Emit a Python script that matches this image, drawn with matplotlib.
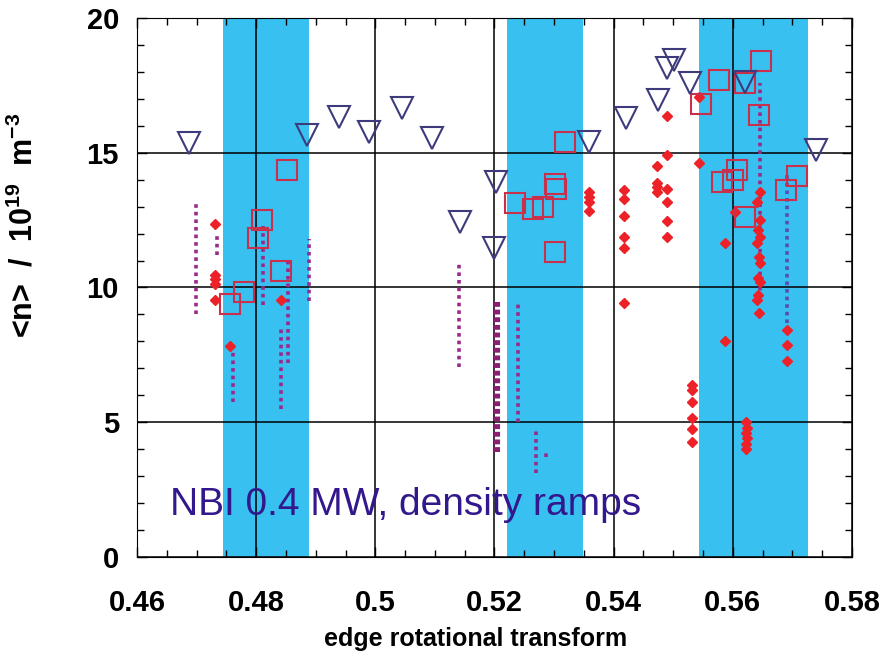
import numpy as np
import matplotlib
matplotlib.use("Agg")
import matplotlib.pyplot as plt

plt.rcParams['font.family'] = ['Liberation Sans', 'DejaVu Sans']
plt.rcParams['mathtext.fontset'] = 'custom'
plt.rcParams['mathtext.rm'] = 'Liberation Sans:bold'
plt.rcParams['mathtext.bf'] = 'Liberation Sans:bold'

# island bands (edge rotational transform)
band_lo = [0.4744, 0.5221, 0.5544]
band_hi = [0.4888, 0.5348, 0.5727]

# triangles
tri_x = [0.4687, 0.4885, 0.4939, 0.4989, 0.5044, 0.5095, 0.5142, 0.5200, 0.5203,
         0.5359, 0.5420, 0.5475, 0.5489, 0.5502, 0.5529, 0.5620, 0.5740]
tri_y = [15.35, 15.67, 16.34, 15.78, 16.67, 15.55, 12.44, 11.47, 13.92,
         15.41, 16.30, 16.97, 18.15, 18.45, 17.60, 17.63, 15.10]

# squares
sq_x = [0.4851, 0.4810, 0.4803, 0.4842, 0.4779, 0.4756,
        0.5319, 0.5301, 0.5303, 0.5234, 0.5264, 0.5281, 0.5301,
        0.5577, 0.5546, 0.5648, 0.5620, 0.5644, 0.5607, 0.5582, 0.5600,
        0.5620, 0.5708, 0.5690]
sq_y = [14.37, 12.51, 11.85, 10.62, 9.85, 9.40,
        15.40, 13.85, 13.65, 13.14, 12.92, 13.00, 11.33,
        17.70, 16.80, 18.40, 17.60, 16.40, 14.37, 13.93, 14.00,
        12.60, 14.15, 13.60]

# red points
dot_x = ([0.4731] * 5 + [0.4756, 0.4841] + [0.5358] * 4 + [0.5418] * 6 +
         [0.5473] * 4 + [0.5490] * 6 + [0.5532] * 6 + [0.5544] * 2 +
         [0.5587] * 2 + [0.5603] +
         [0.5622, 0.5624, 0.5622, 0.5624, 0.5622, 0.5623] +
         [0.5645, 0.5641, 0.5646, 0.5643, 0.5645, 0.5641, 0.5644, 0.5646,
          0.5642, 0.5645, 0.5643, 0.5641, 0.5644] +
         [0.5691] * 3)
dot_y = ([12.36, 10.46, 10.32, 10.13, 9.54] + [7.83, 9.54] +
         [13.54, 13.36, 13.17, 12.84] +
         [13.62, 13.28, 12.65, 11.87, 11.47, 9.42] +
         [14.51, 13.88, 13.73, 13.54] +
         [16.36, 14.92, 13.65, 13.17, 12.47, 11.87] +
         [6.38, 6.20, 5.75, 5.16, 4.75, 4.27] +
         [17.07, 14.62] + [11.65, 8.01] + [12.80] +
         [5.00, 4.80, 4.60, 4.40, 4.20, 4.00] +
         [13.54, 13.17, 12.50, 12.13, 11.87, 11.65, 11.13, 10.90, 10.35,
          10.20, 9.72, 9.54, 9.05] +
         [8.42, 7.87, 7.27])

# density ramps (dotted)
ramp_x = [0.4699, 0.4734, 0.4761, 0.4811, 0.4853, 0.4841, 0.4888,
          0.5140, 0.5239, 0.5269, 0.5286, 0.5645]
ramp_hi = [13.2, 11.9, 7.6, 12.3, 11.0, 8.5, 11.8, 10.9, 9.4, 4.8, 3.9, 17.6]
ramp_lo = [9.0, 11.2, 5.75, 9.35, 7.2, 5.5, 9.5, 7.05, 5.0, 3.1, 3.7, 9.6]

dense_x = 0.5204
dense_hi, dense_lo = 9.5, 3.9

blue_x = 0.5691
blue_hi, blue_lo = 14.2, 8.7

fig = plt.figure(figsize=(8.81, 6.54), dpi=100)
ax = fig.add_axes([0.1555, 0.1483, 0.8115, 0.8242])

for lo, hi in zip(band_lo, band_hi):
    ax.axvspan(lo, hi, color='#38c0f0', lw=0, zorder=0)

ax.set_xlim(0.46, 0.58)
ax.set_ylim(0, 20)
ax.set_xticks([0.46, 0.48, 0.5, 0.52, 0.54, 0.56, 0.58])
ax.set_xticklabels(['0.46', '0.48', '0.5', '0.52', '0.54', '0.56', '0.58'])
ax.set_yticks([0, 5, 10, 15, 20])
ax.set_xticks(np.arange(0.46, 0.5801, 0.005), minor=True)
ax.set_yticks(np.arange(0, 20.1, 1), minor=True)
ax.grid(True, which='major', color='black', lw=1.1, zorder=1)
ax.set_axisbelow(True)

ax.tick_params(which='both', direction='in', top=True, right=True, width=1)
ax.tick_params(which='major', length=7, labelsize=21, pad=23)
ax.tick_params(axis='y', which='major', pad=13)
ax.tick_params(which='minor', length=5)
for lab in ax.get_xticklabels() + ax.get_yticklabels():
    lab.set_fontweight('bold')

for x, hi, lo in zip(ramp_x, ramp_hi, ramp_lo):
    ax.plot([x, x], [lo, hi], color='#9a2a8a', lw=2.6, dashes=(1, 1.1),
            dash_capstyle='butt', zorder=3)
ax.plot([dense_x, dense_x], [dense_lo, dense_hi], color='#8a1f70', lw=4.4,
        dashes=(0.8, 0.45), dash_capstyle='butt', zorder=3)
ax.plot([blue_x, blue_x], [blue_lo, blue_hi], color='#5a4cb0', lw=2.6,
        dashes=(1, 1.1), dash_capstyle='butt', zorder=3)

ax.plot(dot_x, dot_y, 'D', ms=5.5, color='#ec2228', mec='#ec2228', zorder=4)
ax.plot(sq_x, sq_y, 's', ms=14, mfc='none', mec='#c8304c', mew=1.5, zorder=5)
ax.plot(tri_x, tri_y, 'v', ms=16, mfc='none', mec='#3e3b7c', mew=1.5, zorder=5)

ax.text(0.4655, 1.55, 'NBI 0.4 MW, density ramps', color='#33178c',
        fontsize=28, fontweight='normal', zorder=6)

ax.set_xlabel('edge rotational transform', fontsize=18, fontweight='bold')
ax.set_ylabel(r'<n>  /  10$^{19}$  m$^{-3}$', fontsize=22, fontweight='bold')
ax.xaxis.set_label_coords(0.473, -0.13)
ax.yaxis.set_label_coords(-0.136, 0.615)

fig.savefig('out.png', dpi=100)
